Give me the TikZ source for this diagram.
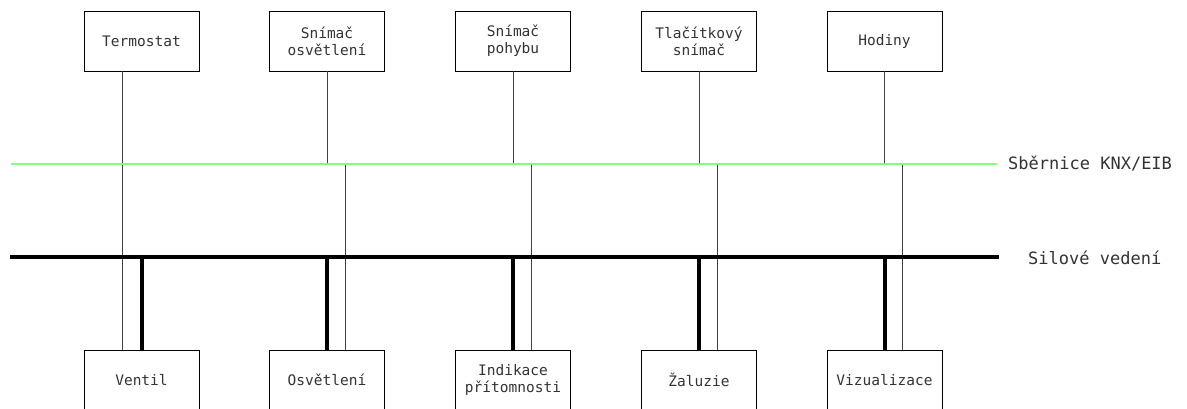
\documentclass[tikz,border=0pt]{standalone}
\usepackage{fontspec}
\newfontfamily\cadfont{DejaVu Sans Mono}
\newcommand\boxfont{\cadfont\fontsize{14.5}{17}\selectfont}
\newcommand\labfont{\cadfont\fontsize{17}{19}\selectfont}
\usetikzlibrary{calc}
\definecolor{busgreen}{RGB}{128,255,128}
\begin{document}
\begin{tikzpicture}[x=1pt,y=-1pt,
  box/.style={draw,line width=0.8pt,minimum width=115pt,minimum height=60pt,inner sep=0pt,align=center,font=\boxfont,text=black!80},
  lab/.style={anchor=west,inner sep=0pt,font=\labfont,text=black!80},
  wire/.style={line width=0.8pt,black!75},
  power/.style={line width=4pt,black},
  knx/.style={line width=2pt,busgreen}]
\useasboundingbox (0,0) rectangle (1187,408);
\clip (0,0) rectangle (1187,408);
% buses
\coordinate (gL) at (11,164);
\coordinate (gR) at (997,164);
\coordinate (pL) at (10,257);
\coordinate (pR) at (999,257);
\node[lab] (knxlab) at (1008,164) {Sběrnice KNX/EIB};
\node[lab] (powlab) at (1028,258) {Silové vedení};
% top boxes
\node[box] (t1) at (141.5,41) {Termostat};
\node[box] (t2) at (327,41) {Snímač\\osvětlení};
\node[box] (t3) at (513,41) {Snímač\\pohybu};
\node[box] (t4) at (699,41) {Tlačítkový\\snímač};
\node[box] (t5) at (884.5,41) {Hodiny};
% bottom boxes
\node[box] (b1) at (141.5,380) {Ventil};
\node[box] (b2) at (327,380) {Osvětlení};
\node[box] (b3) at (513,380) {Indikace\\přítomnosti};
\node[box] (b4) at (699,380) {Žaluzie};
\node[box] (b5) at (884.5,380) {Vizualizace};
% thin wires
\coordinate (ta1) at ($(t1.south)+(-19,0)$);
\coordinate (ba1) at ($(b1.north)+(-19,0)$);
\draw[wire] (ta1) -- (ba1);
\foreach \i in {2,3,4,5} {
  \coordinate (bw\i) at ($(b\i.north)+(18,0)$);
  \draw[wire] (t\i.south) -- (t\i.south |- gL);
  \draw[wire] (bw\i) -- (bw\i |- gL);
}
% buses drawn
\draw[knx] (gL) -- (gR);
\draw[power] (pL) -- (pR);
% thick power drops
\foreach \i in {1,2,3,4,5} {
  \draw[power] (b\i.north) -- (b\i.north |- pL);
}
\end{tikzpicture}
\end{document}
